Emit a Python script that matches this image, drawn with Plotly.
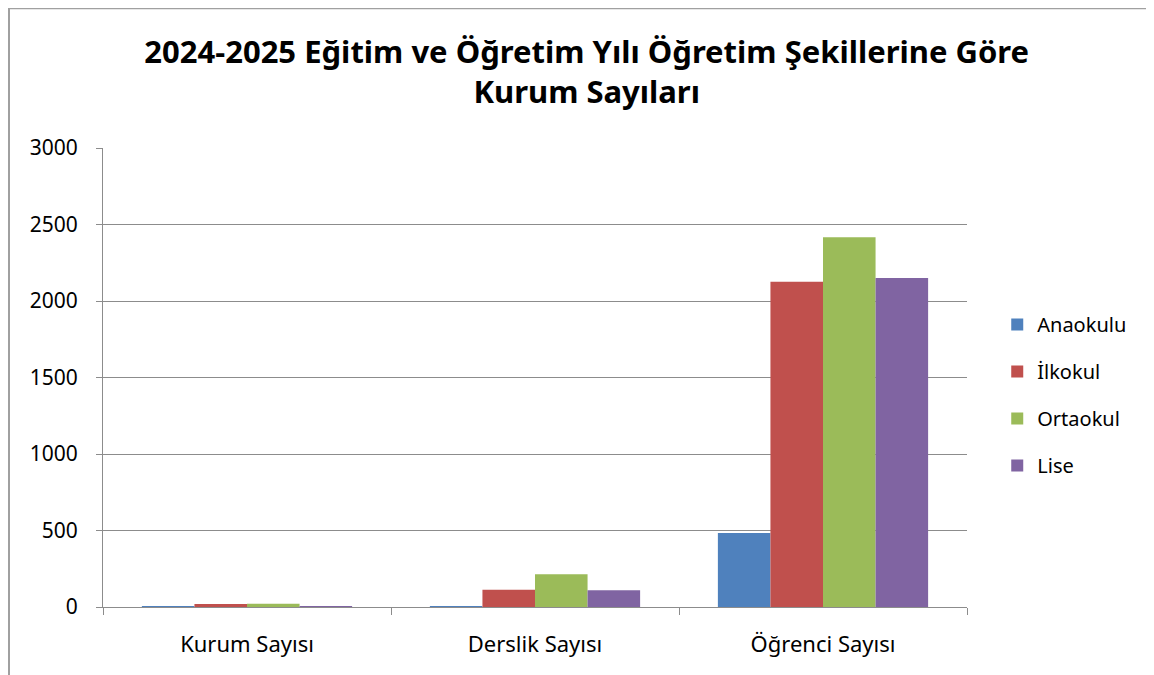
import plotly.graph_objects as go

categories = ["Kurum Sayısı", "Derslik Sayısı", "Öğrenci Sayısı"]
anaokulu = [3, 5, 484]
ilkokul = [20, 112, 2126]
ortaokul = [22, 214, 2416]
lise = [6, 110, 2150]

series = [
    ("Anaokulu", anaokulu, "#4F81BD"),
    ("İlkokul", ilkokul, "#C0504D"),
    ("Ortaokul", ortaokul, "#9BBB59"),
    ("Lise", lise, "#8064A2"),
]

FONT = "Noto Sans"
# page body adds an 8px margin, so the figure is a bit smaller than the window
W, H = 1146, 667
L, R, T, B = 95, 959, 140, 599

fig = go.Figure()
for name, vals, col in series:
    fig.add_trace(go.Bar(name=name, x=categories, y=vals, marker_color=col,
                         marker_line_width=0, legendgroup=name))

def px_x(p): return (p - L) / (R - L)
def px_y(p): return (B - p) / (B - T)

fig.update_layout(
    width=W, height=H,
    margin=dict(l=L, r=W - R, t=T, b=H - B),
    paper_bgcolor="white", plot_bgcolor="white",
    barmode="group", bargap=0.27, bargroupgap=0,
    font=dict(family=FONT, size=21, color="black"),
    title=dict(text="<b>2024-2025 Eğitim ve Öğretim Yılı Öğretim Şekillerine Göre<br>Kurum Sayıları</b>",
               x=0.505, xanchor="center", y=0.918, yanchor="middle",
               font=dict(family=FONT, size=31, color="black")),
    legend=dict(x=1.035, y=0.462, xanchor="left", yanchor="middle",
                font=dict(size=20), tracegroupgap=18, itemwidth=30),
    showlegend=True,
    shapes=[
        dict(type="line", xref="paper", yref="paper",
             x0=px_x(1), x1=px_x(1), y0=px_y(H), y1=px_y(0),
             line=dict(color="#a0a0a0", width=2)),
        dict(type="line", xref="paper", yref="paper",
             x0=px_x(0), x1=px_x(W), y0=px_y(0.5), y1=px_y(0.5),
             line=dict(color="#a0a0a0", width=1.5)),
    ],
)
fig.update_xaxes(showline=True, linecolor="#8c8c8c", linewidth=1,
                 ticks="outside", tickson="boundaries", ticklen=7, tickcolor="#8c8c8c",
                 ticklabelstandoff=18, showgrid=False, tickfont=dict(size=22))
fig.update_yaxes(range=[0, 3000], dtick=500, showline=True, linecolor="#8c8c8c",
                 ticks="outside", ticklen=6, tickcolor="#8c8c8c", ticklabelstandoff=14,
                 showgrid=True, gridcolor="#8c8c8c", gridwidth=1, zeroline=False)

fig.write_html("out.html")
